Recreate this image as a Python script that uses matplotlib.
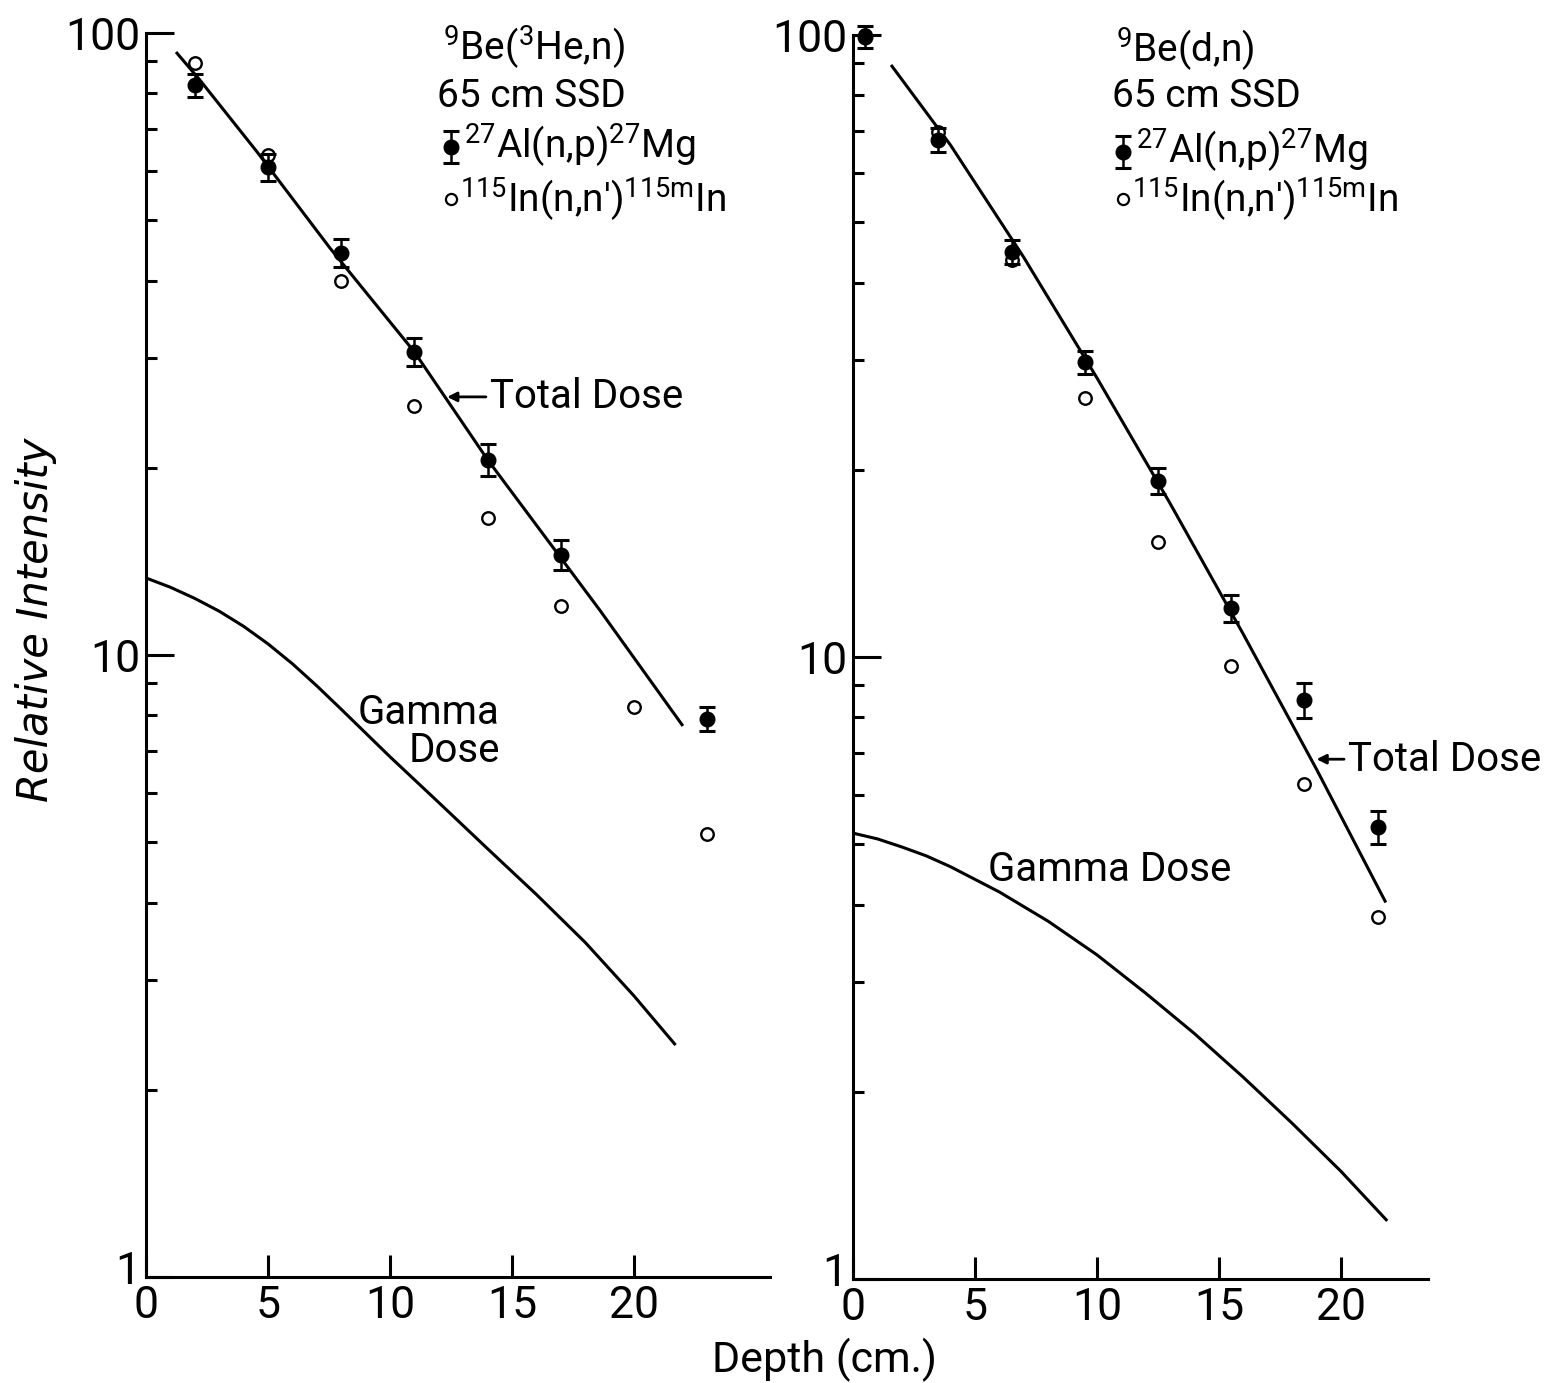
import matplotlib
matplotlib.use("Agg")
import matplotlib.pyplot as plt
from matplotlib.lines import Line2D
from matplotlib.transforms import ScaledTranslation
from matplotlib.ticker import FixedLocator, FixedFormatter, NullFormatter

plt.rcParams['font.family'] = ['Roboto', 'DejaVu Sans']
plt.rcParams['mathtext.fontset'] = 'custom'
plt.rcParams['mathtext.rm'] = 'Roboto'
plt.rcParams['mathtext.it'] = 'Roboto:italic'
plt.rcParams['mathtext.bf'] = 'Roboto:bold'

# ---------------- data ----------------
# Left panel: 9Be(3He,n), 65 cm SSD
left_al_depth = [2, 5, 8, 11, 14, 17, 23]
left_al_val = [82.5, 60.9, 44.3, 30.7, 20.6, 14.5, 7.9]
left_al_err = [3.5, 3.0, 2.3, 1.6, 1.2, 0.8, 0.35]
left_in_depth = [2, 5, 8, 11, 14, 17, 20, 23]
left_in_val = [89.5, 63.6, 39.9, 25.1, 16.6, 12.0, 8.25, 5.15]
left_total_depth = [1.23, 2.21, 4.55, 7.54, 11.0, 14.0, 18.6, 22.0]
left_total_val = [93.2, 84.0, 64.4, 45.1, 30.7, 20.6, 11.8, 7.69]
left_gamma_depth = [0, 1, 2, 3, 4, 5, 6, 7, 8, 10, 12, 14, 16, 18, 20, 21.7]
left_gamma_val = [13.3, 12.85, 12.33, 11.76, 11.12, 10.42, 9.68, 8.92, 8.18,
                  6.86, 5.79, 4.88, 4.12, 3.45, 2.83, 2.36]

# Right panel: 9Be(d,n), 65 cm SSD
right_al_depth = [0.5, 3.5, 6.5, 9.5, 12.5, 15.5, 18.5, 21.5]
right_al_val = [99.3, 67.8, 44.8, 29.8, 19.2, 12.0, 8.53, 5.33]
right_al_err = [4.0, 3.0, 2.0, 1.3, 0.9, 0.6, 0.55, 0.32]
right_in_depth = [0.5, 3.5, 6.5, 9.5, 12.5, 15.5, 18.5, 21.5]
right_in_val = [100.0, 69.8, 43.5, 26.1, 15.3, 9.67, 6.25, 3.82]
right_total_depth = [1.56, 4, 7, 10, 13, 16, 19, 21.84]
right_total_val = [89.5, 66.5, 43.9, 28.1, 17.65, 10.88, 6.60, 4.03]
right_gamma_depth = [0, 1, 2, 3, 4, 6, 8, 10, 12, 14, 16, 18, 20, 21.9]
right_gamma_val = [5.21, 5.10, 4.95, 4.79, 4.60, 4.19, 3.76, 3.32, 2.88,
                   2.48, 2.11, 1.78, 1.49, 1.24]

x_ticks = [0, 5, 10, 15, 20]
x_tick_labels = ['0', '5', '10', '15', '20']
y_major = [1, 10, 100]
y_major_labels = ['1', '10', '100']
y_minor = [2, 3, 4, 5, 6, 7, 8, 9, 20, 30, 40, 50, 60, 70, 80, 90]

# ---------------- figure ----------------
W, H = 1547, 1383
fig = plt.figure(figsize=(W / 100, H / 100), dpi=100)


def rect(x0, y0, x1, y1):
    return [x0 / W, 1 - y1 / H, (x1 - x0) / W, (y1 - y0) / H]


def fxy(x, y):
    return (x / W, 1 - y / H)


axL = fig.add_axes(rect(146, 33, 770, 1277))
axR = fig.add_axes(rect(853, 35, 1428, 1279))

LW = 2.2


def style(ax, xmax):
    ax.set_yscale('log')
    ax.set_ylim(1, 100)
    ax.set_xlim(0, xmax)
    for s in ['top', 'right']:
        ax.spines[s].set_visible(False)
    for s in ['left', 'bottom']:
        ax.spines[s].set_linewidth(LW)
    ax.xaxis.set_major_locator(FixedLocator(x_ticks))
    ax.xaxis.set_major_formatter(FixedFormatter(x_tick_labels))
    ax.yaxis.set_major_locator(FixedLocator(y_major))
    ax.yaxis.set_major_formatter(FixedFormatter(y_major_labels))
    ax.yaxis.set_minor_locator(FixedLocator(y_minor))
    ax.yaxis.set_minor_formatter(NullFormatter())
    ax.tick_params(axis='y', which='major', direction='in', length=20,
                   width=LW, labelsize=32, pad=4)
    ax.tick_params(axis='y', which='minor', direction='in', length=8, width=LW)
    ax.tick_params(axis='x', which='major', direction='in', length=16,
                   width=LW, labelsize=32, pad=6)
    ax.set_facecolor('none')


def draw(ax, al_x, al_y, al_e, in_x, in_y, tot_x, tot_y, gam_x, gam_y):
    ax.plot(tot_x, tot_y, color='k', lw=LW, solid_capstyle='butt', zorder=2)
    ax.plot(gam_x, gam_y, color='k', lw=LW, solid_capstyle='butt', zorder=2)
    ax.plot(in_x, in_y, linestyle='none', marker='o', markersize=9,
            markerfacecolor='white', markeredgecolor='k', markeredgewidth=1.7,
            zorder=3, clip_on=False)
    ax.errorbar(al_x, al_y, yerr=al_e, fmt='o', color='k', markersize=10.5,
                elinewidth=1.8, capsize=6, capthick=2.2, zorder=4,
                clip_on=False)


style(axL, 25.57)
style(axR, 23.57)
draw(axL, left_al_depth, left_al_val, left_al_err, left_in_depth, left_in_val,
     left_total_depth, left_total_val, left_gamma_depth, left_gamma_val)
draw(axR, right_al_depth, right_al_val, right_al_err, right_in_depth, right_in_val,
     right_total_depth, right_total_val, right_gamma_depth, right_gamma_val)

# Curve labels
arrow = dict(arrowstyle='-|>', lw=2.0, color='k', mutation_scale=14,
             shrinkA=1, shrinkB=0)
axL.annotate('Total Dose', xy=(12.34, 26.0), xytext=(14.1, 26.0),
             fontsize=29, ha='left', va='center', arrowprops=arrow)
axR.annotate('Total Dose', xy=(19.0, 6.85), xytext=(20.3, 6.85),
             fontsize=29, ha='left', va='center', arrowprops=arrow,
             annotation_clip=False)
axL.text(14.5, 8.07, 'Gamma', fontsize=29, ha='right', va='center')
axL.text(14.5, 7.03, 'Dose', fontsize=29, ha='right', va='center')
axR.text(5.53, 4.55, 'Gamma Dose', fontsize=29, ha='left', va='center')

# Legend blocks (figure pixel coordinates)
TS = 28


def legend_block(x_sup, x_text, x_mark, baselines, title):
    fig.text(*fxy(x_sup, baselines[0]), title, fontsize=TS, ha='left', va='baseline')
    fig.text(*fxy(x_text, baselines[1]), '65 cm SSD', fontsize=TS, ha='left', va='baseline')
    fig.text(*fxy(x_mark + 13, baselines[2]), r'$^{27}$Al(n,p)$^{27}$Mg',
             fontsize=TS, ha='left', va='baseline')
    fig.text(*fxy(x_mark + 9, baselines[3]), r"$^{115}$In(n,n')$^{115\mathrm{m}}$In",
             fontsize=TS, ha='left', va='baseline')
    yc = baselines[2] - 12
    fig.add_artist(Line2D([fxy(x_mark, yc - 16)[0], fxy(x_mark, yc + 16)[0]],
                          [fxy(x_mark, yc - 16)[1], fxy(x_mark, yc + 16)[1]],
                          transform=fig.transFigure, color='k', lw=1.8))
    for dy in (-16, 16):
        fig.add_artist(Line2D([fxy(x_mark, yc + dy)[0]], [fxy(x_mark, yc + dy)[1]],
                              transform=fig.transFigure, marker='_', markersize=11,
                              markeredgewidth=2.2, color='k'))
    fig.add_artist(Line2D([fxy(x_mark, yc)[0]], [fxy(x_mark, yc)[1]],
                          transform=fig.transFigure, marker='o', markersize=10.5,
                          color='k', linestyle='none'))
    yo = baselines[3] - 14
    fig.add_artist(Line2D([fxy(x_mark, yo)[0]], [fxy(x_mark, yo)[1]],
                          transform=fig.transFigure, marker='o', markersize=8,
                          markerfacecolor='white', markeredgecolor='k',
                          markeredgewidth=1.6, linestyle='none'))


legend_block(443, 437, 451, [61, 107, 159, 213], r'$^{9}$Be($^{3}$He,n)')
legend_block(1116, 1112, 1123, [63, 107, 164, 213], r'$^{9}$Be(d,n)')

# Axis titles
fig.text(*fxy(825, 1360), 'Depth (cm.)', fontsize=31, ha='center', va='center')
fig.text(*fxy(36, 620), 'Relative Intensity', fontsize=30, ha='center', va='center',
         rotation=90, family='DejaVu Sans', style='oblique')

# lift the "1" tick labels slightly, as in the original, so they clear the "0"
fig.canvas.draw()
lift = ScaledTranslation(0, 0.09, fig.dpi_scale_trans)
for ax in (axL, axR):
    for t in ax.yaxis.get_major_ticks():
        if abs(t.get_loc() - 1) < 1e-9:
            t.label1.set_transform(t.label1.get_transform() + lift)

fig.savefig('out.png', dpi=100, facecolor='white')
